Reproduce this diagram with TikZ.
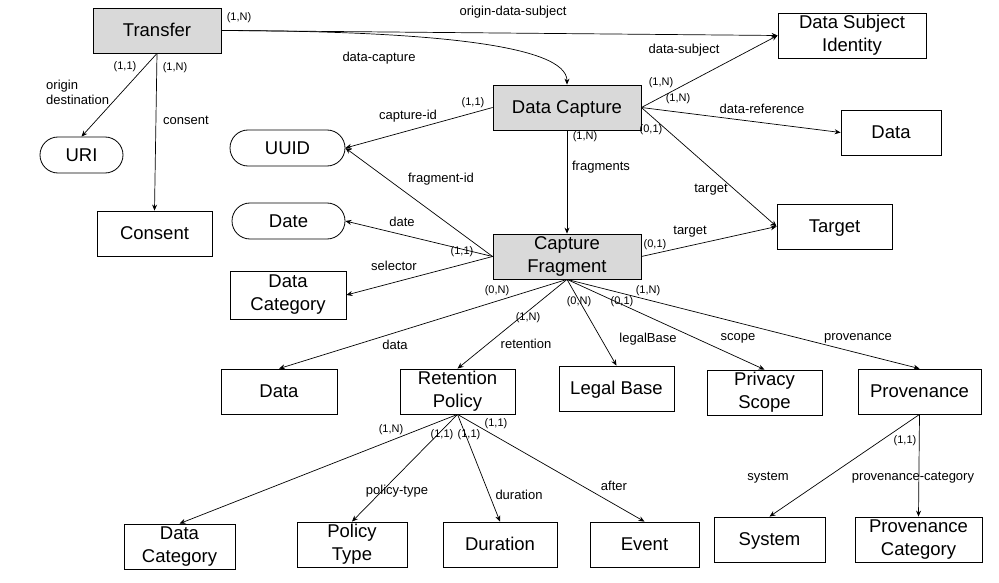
\documentclass[tikz,border=0pt]{standalone}
\usepackage{fontspec}
\setmainfont{Liberation Sans}
\usetikzlibrary{arrows.meta}
\definecolor{entgray}{HTML}{D9D9D9}
\newcommand{\entstrut}{\rule[-0.212em]{0pt}{1.117em}}
\tikzset{
  entity/.style={
    draw,
    line width=0.8pt,
    minimum width=115pt,
    minimum height=45pt,
    inner sep=0pt,
    align=center,
    font=\fontsize{18.5}{23}\selectfont,
    execute at begin node=\entstrut,
    execute at end node=\entstrut
  },
  core/.style={entity, fill=entgray},
  attr/.style={entity, rounded corners=18pt, minimum height=36pt},
  rel/.style={-{Stealth[length=6pt, width=5pt]}, line width=0.7pt},
  lbl/.style={font=\fontsize{13}{15}\selectfont, inner sep=1pt},
  card/.style={font=\fontsize{11}{13}\selectfont, inner sep=1pt}
}

\begin{document}
\begin{tikzpicture}[x=1pt, y=-1pt]
  \useasboundingbox (0,0) rectangle (999,583);

  % entities
  \node[core, minimum width=128pt] (transfer) at (157,30.5) {Transfer};
  \node[entity, minimum width=148pt] (subject) at (852,35.5) {Data Subject\\Identity};
  \node[core, minimum width=148pt] (capture) at (567,107.5) {Data Capture};
  \node[entity, minimum width=100pt] (data) at (891,132.5) {Data};
  \node[attr, minimum width=83pt] (uri) at (81.5,155) {URI};
  \node[attr] (uuid) at (287.5,148) {UUID};
  \node[attr, minimum width=113pt] (date) at (288.5,221) {Date};
  \node[entity] (consent) at (154.5,233.5) {Consent};
  \node[entity] (target) at (834.5,226.5) {Target};
  \node[core, minimum width=148pt] (fragment) at (567,256.5) {Capture\\Fragment};
  \node[entity, minimum width=116pt, minimum height=48pt] (selcat) at (288,295) {Data\\Category};
  \node[entity, minimum width=116pt] (fragdata) at (279,391.5) {Data};
  \node[entity] (retention) at (457.5,391.5) {Retention\\Policy};
  \node[entity] (legal) at (616.5,388.5) {Legal Base};
  \node[entity] (scope) at (764.5,392.5) {Privacy\\Scope};
  \node[entity, minimum width=123pt] (provenance) at (919.5,391.5) {Provenance};
  \node[entity, minimum width=111pt] (retcat) at (179.5,546.5) {Data\\Category};
  \node[entity, minimum width=110pt] (ptype) at (352,544.5) {Policy\\Type};
  \node[entity, minimum width=114pt] (duration) at (500,544.5) {Duration};
  \node[entity, minimum width=109pt] (event) at (644.5,544.5) {Event};
  \node[entity, minimum width=111pt] (system) at (769.5,539.5) {System};
  \node[entity, minimum width=127pt] (provcat) at (918.5,539.5) {Provenance\\Category};

  % transfer
  \draw[rel] (transfer.east) -- (subject.west);
  \draw[rel] (transfer.east) .. controls (430,31) and (567,45) .. (capture.north);
  \draw[rel] (transfer.south) -- (uri.north);
  \draw[rel] (transfer.south) -- (consent.north);
  \node[lbl] (l-ods) at (513,12) {origin-data-subject};
  \node[lbl] (l-dc) at (379,58) {data-capture};
  \node[lbl, anchor=west, align=left] (l-od) at (45,92) {origin\\destination};
  \node[lbl] (l-con) at (186,120) {consent};
  \node[card] (c-t1) at (239,18) {(1,N)};
  \node[card] (c-t2) at (125,67) {(1,1)};
  \node[card] (c-t3) at (175,68) {(1,N)};

  % data capture
  \draw[rel] (capture.west) -- (uuid.east);
  \draw[rel] (capture.east) -- (subject.west);
  \draw[rel] (capture.east) -- (data.west);
  \draw[rel] (capture.east) -- (target.west);
  \draw[rel] (capture.south) -- (fragment.north);
  \node[lbl] (l-cid) at (408,116) {capture-id};
  \node[lbl] (l-ds) at (684,50) {data-subject};
  \node[lbl] (l-dr) at (762,109) {data-reference};
  \node[lbl] (l-tg1) at (711,190) {target};
  \node[lbl] (l-fr) at (601,167) {fragments};
  \node[card] (c-c1) at (473,103) {(1,1)};
  \node[card] (c-c2) at (661,83) {(1,N)};
  \node[card] (c-c3) at (678,99) {(1,N)};
  \node[card] (c-c4) at (651,130) {(0,1)};
  \node[card] (c-c5) at (585,137) {(1,N)};

  % capture fragment
  \draw[rel] (fragment.west) -- (uuid.east);
  \draw[rel] (fragment.west) -- (date.east);
  \draw[rel] (fragment.west) -- (selcat.east);
  \draw[rel] (fragment.east) -- (target.west);
  \draw[rel] (fragment.south) -- (fragdata.north);
  \draw[rel] (fragment.south) -- (retention.north);
  \draw[rel] (fragment.south) -- (legal.north);
  \draw[rel] (fragment.south) -- (scope.north);
  \draw[rel] (fragment.south) -- (provenance.north);
  \node[lbl] (l-fid) at (441,179) {fragment-id};
  \node[lbl] (l-date) at (402,222) {date};
  \node[lbl] (l-sel) at (394,266) {selector};
  \node[lbl] (l-tg2) at (690,232) {target};
  \node[lbl] (l-data) at (395,345) {data};
  \node[lbl] (l-ret) at (526,344) {retention};
  \node[lbl] (l-lb) at (648,339) {legalBase};
  \node[lbl] (l-sc) at (738,338) {scope};
  \node[lbl] (l-prov) at (858,338) {provenance};
  \node[card] (c-f1) at (462,252) {(1,1)};
  \node[card] (c-f2) at (655,245) {(0,1)};
  \node[card] (c-f3) at (497,291) {(0,N)};
  \node[card] (c-f4) at (528,318) {(1,N)};
  \node[card] (c-f5) at (579,302) {(0,N)};
  \node[card] (c-f6) at (622,302) {(0,1)};
  \node[card] (c-f7) at (648,291) {(1,N)};

  % retention policy
  \draw[rel] (retention.south) -- (retcat.north);
  \draw[rel] (retention.south) -- (ptype.north);
  \draw[rel] (retention.south) -- (duration.north);
  \draw[rel] (retention.south) -- (event.north);
  \node[lbl] (l-pt) at (397,491) {policy-type};
  \node[lbl] (l-dur) at (519,495) {duration};
  \node[lbl] (l-aft) at (614,486) {after};
  \node[card] (c-r1) at (391,430) {(1,N)};
  \node[card] (c-r2) at (442,435) {(1,1)};
  \node[card] (c-r3) at (469,435) {(1,1)};
  \node[card] (c-r4) at (496,424) {(1,1)};

  % provenance
  \draw[rel] (provenance.south) -- (system.north);
  \draw[rel] (provenance.south) -- (provcat.north);
  \node[lbl] (l-sys) at (768,478) {system};
  \node[lbl] (l-pc) at (913,478) {provenance-category};
  \node[card] (c-p1) at (905,441) {(1,1)};
\end{tikzpicture}
\end{document}
